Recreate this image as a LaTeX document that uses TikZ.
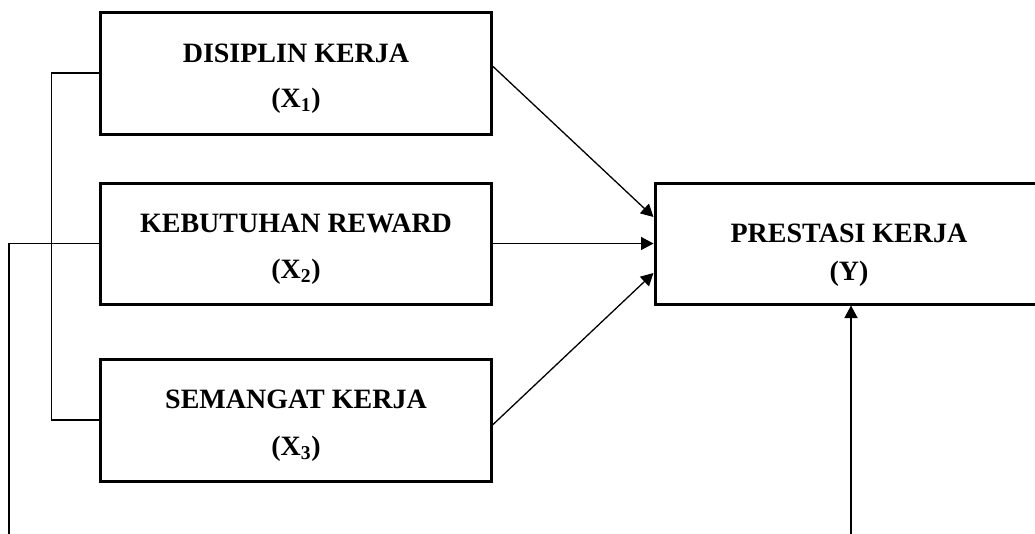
\documentclass[tikz,border=0pt]{standalone}
\usepackage{fontspec}
\setmainfont{Liberation Serif}
\usetikzlibrary{arrows.meta}
\tikzset{
  box/.style={draw, line width=3pt, minimum width=391pt, inner sep=0pt, fill=white},
  lbl/.style={anchor=base, inner sep=0pt, font=\fontsize{28}{34}\selectfont\bfseries},
  conn/.style={line width=1.3pt},
  arr/.style={conn, -{Triangle[length=12.5pt,width=13pt]}}
}
\begin{document}
\begin{tikzpicture}[x=1pt,y=-1pt]
\useasboundingbox (0,0) rectangle (1035,533);
\clip (0,0) rectangle (1035,533);
% boxes
\node[box, minimum height=122pt] (X1) at (295.5,73) {};
\node[box, minimum height=121pt] (X2) at (295.5,243.5) {};
\node[box, minimum height=122pt] (X3) at (295.5,420) {};
\node[box, minimum height=121pt] (Y) at (850.5,243.5) {};
% labels
\node[lbl] (t1a) at (296,62.5) {DISIPLIN KERJA};
\node[lbl] (t1b) at (296,107) {(X\textsubscript{1})};
\node[lbl] (t2a) at (296,232) {KEBUTUHAN REWARD};
\node[lbl] (t2b) at (296,278) {(X\textsubscript{2})};
\node[lbl] (t3a) at (296,408) {SEMANGAT KERJA};
\node[lbl] (t3b) at (296,455) {(X\textsubscript{3})};
\node[lbl] (tya) at (849,242) {PRESTASI KERJA};
\node[lbl] (tyb) at (849,280) {(Y)};
% free ends at the bottom edge
\coordinate (L) at (9,540);
\coordinate (B) at (851,540);
% connectors
\draw[arr] ([yshift=7pt]X1.east) -- ([yshift=26.5pt]Y.west);
\draw[arr] (X2.east) -- (Y.west);
\draw[arr] ([yshift=-5pt]X3.east) -- ([yshift=-29.5pt]Y.west);
\draw[conn] (X1.west) -- ++(-47,0) |- (X3.west);
\draw[conn] (X2.west) -| (L);
\draw[arr] (B) -- (Y.south -| B);
\end{tikzpicture}
\end{document}
